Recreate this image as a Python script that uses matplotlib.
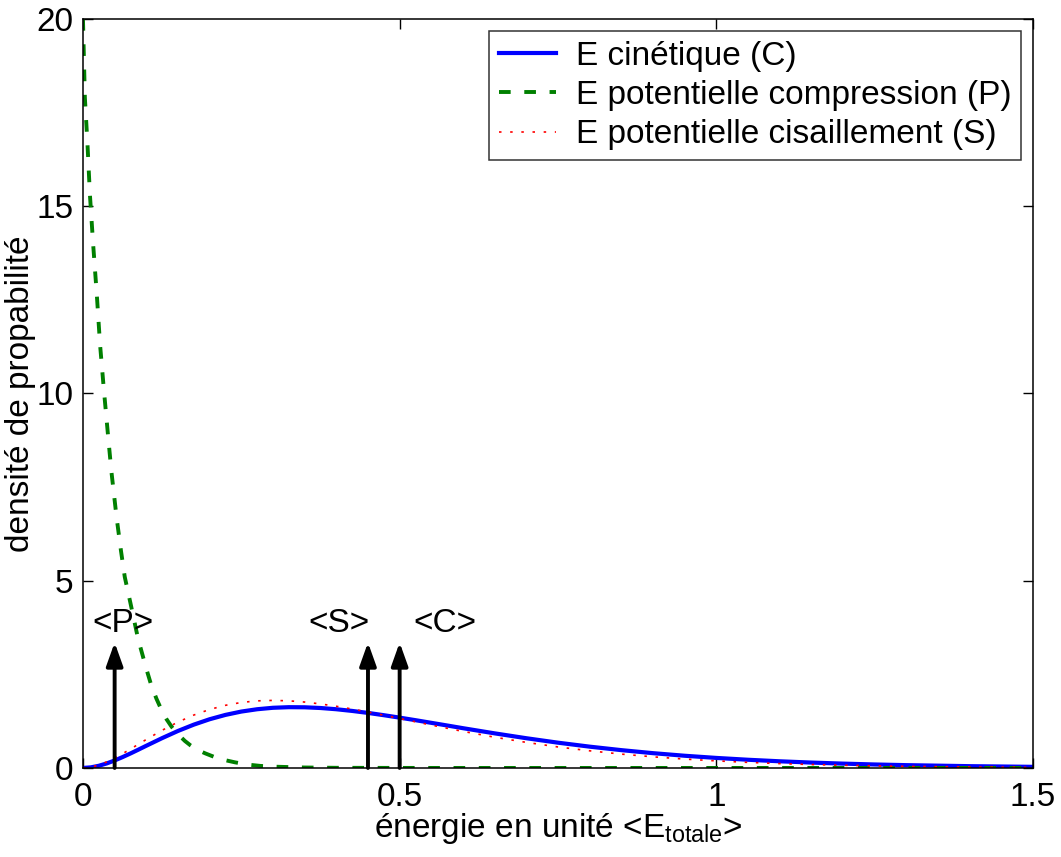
import matplotlib
matplotlib.use('Agg')
import matplotlib.pyplot as plt

plt.rcParams['font.family'] = ['Liberation Sans', 'DejaVu Sans']
plt.rcParams['mathtext.fontset'] = 'custom'
plt.rcParams['mathtext.rm'] = 'Liberation Sans'
plt.rcParams['mathtext.it'] = 'Liberation Sans:italic'

FS = 24

# E cinetique (C)
xc = [0, 0.0125, 0.025, 0.0375, 0.05, 0.0625, 0.075, 0.0875, 0.1, 0.125, 0.15,
      0.175, 0.2, 0.225, 0.25, 0.275, 0.3, 0.325, 0.35, 0.375, 0.4, 0.425,
      0.45, 0.475, 0.5, 0.525, 0.55, 0.575, 0.6, 0.65, 0.7, 0.75, 0.8, 0.85,
      0.9, 0.95, 1.0, 1.05, 1.1, 1.15, 1.2, 1.25, 1.3, 1.4, 1.5]
yc = [0, 0.016, 0.058, 0.121, 0.200, 0.290, 0.387, 0.489, 0.593, 0.797, 0.988,
      1.157, 1.301, 1.417, 1.506, 1.568, 1.607, 1.623, 1.620, 1.601, 1.568, 1.523,
      1.470, 1.409, 1.344, 1.276, 1.205, 1.134, 1.062, 0.924, 0.794, 0.675, 0.569, 0.476,
      0.395, 0.326, 0.268, 0.219, 0.178, 0.144, 0.116, 0.093, 0.075, 0.048, 0.030]

# E potentielle compression (P)
xp = [0, 0.003, 0.007, 0.011, 0.016, 0.022, 0.027, 0.033, 0.04, 0.045, 0.053,
      0.06, 0.066, 0.075, 0.087, 0.1, 0.108, 0.116, 0.124, 0.132, 0.14, 0.15,
      0.161, 0.17, 0.18, 0.193, 0.208, 0.224, 0.24, 0.26, 0.28, 0.3, 0.35,
      0.4, 0.5, 0.6, 1.0, 1.5]
yp = [20.0, 17.9, 16.7, 15.3, 14.0, 12.6, 11.3, 10.1, 8.8, 7.9, 6.7,
      5.8, 5.1, 4.4, 3.45, 2.65, 2.2, 1.85, 1.55, 1.30, 1.10, 0.90,
      0.72, 0.60, 0.49, 0.39, 0.29, 0.21, 0.15, 0.09, 0.055, 0.035, 0.012,
      0.004, 0.001, 0, 0, 0]

# E potentielle cisaillement (S)
xs = [0, 0.0125, 0.025, 0.0375, 0.05, 0.0625, 0.075, 0.0875, 0.1, 0.125, 0.15,
      0.175, 0.2, 0.225, 0.25, 0.275, 0.3, 0.325, 0.35, 0.375, 0.4, 0.425,
      0.45, 0.475, 0.5, 0.525, 0.55, 0.575, 0.6, 0.65, 0.7, 0.75, 0.8, 0.85,
      0.9, 0.95, 1.0, 1.05, 1.1, 1.15, 1.2, 1.25, 1.3, 1.4, 1.5]
ys = [0, 0.021, 0.078, 0.162, 0.265, 0.381, 0.505, 0.633, 0.761, 1.006, 1.226,
      1.413, 1.562, 1.673, 1.749, 1.792, 1.804, 1.793, 1.760, 1.710, 1.647, 1.574,
      1.494, 1.409, 1.321, 1.233, 1.145, 1.060, 0.977, 0.821, 0.683, 0.561, 0.458, 0.370,
      0.297, 0.237, 0.189, 0.149, 0.117, 0.092, 0.072, 0.056, 0.043, 0.026, 0.015]

# mean values marked by arrows
mean_names = ['<P>', '<S>', '<C>']
mean_x = [0.05, 0.45, 0.5]
arrow_top = 3.35
label_x = [0.063, 0.405, 0.571]
label_y = 3.85

fig = plt.figure(figsize=(10.61, 8.57), dpi=100)
ax = fig.add_axes([0.0782, 0.1039, 0.8954, 0.8739])

ax.plot(xc, yc, color='#0000ff', lw=3, label='E cinétique (C)')
ax.plot(xp, yp, color='#008000', lw=2.8, linestyle=(0, (3, 3.5)),
        label='E potentielle compression (P)')
ax.plot(xs, ys, color='#ff0000', lw=1.2, linestyle=(0, (1.5, 5.2)),
        label='E potentielle cisaillement (S)')

for name, mx, lx in zip(mean_names, mean_x, label_x):
    ax.annotate('', xy=(mx, arrow_top), xytext=(mx, 0),
                arrowprops=dict(arrowstyle='-|>,head_length=0.7,head_width=0.25',
                                color='k', lw=2.8, mutation_scale=20,
                                shrinkA=0, shrinkB=0))
    ax.text(lx, label_y, name, fontsize=FS, ha='center', va='center')

ax.set_xlim(0, 1.5)
ax.set_ylim(0, 20)
ax.set_xticks([0, 0.5, 1, 1.5])
ax.set_xticklabels(['0', '0.5', '1', '1.5'])
ax.set_yticks([0, 5, 10, 15, 20])
ax.tick_params(direction='in', length=7, width=1, top=True, right=True,
               labelsize=FS)
ax.tick_params(axis='x', pad=10)
ax.tick_params(axis='y', pad=7)
for s in ax.spines.values():
    s.set_linewidth(1.1)

ax.set_xlabel(r'énergie en unité <E$_{\mathrm{totale}}$>', fontsize=FS)
ax.xaxis.set_label_coords(0.5, -0.058)
ax.set_ylabel('densité de propabilité', fontsize=FS)
ax.yaxis.set_label_coords(-0.049, 0.5)

leg = ax.legend(loc='upper right', fontsize=FS, frameon=True, fancybox=False,
                edgecolor='k', borderaxespad=0.35, handlelength=1.7,
                borderpad=0.3, labelspacing=0.25, handletextpad=0.6)
leg.get_frame().set_linewidth(1.1)

fig.savefig('out.png', dpi=100)
